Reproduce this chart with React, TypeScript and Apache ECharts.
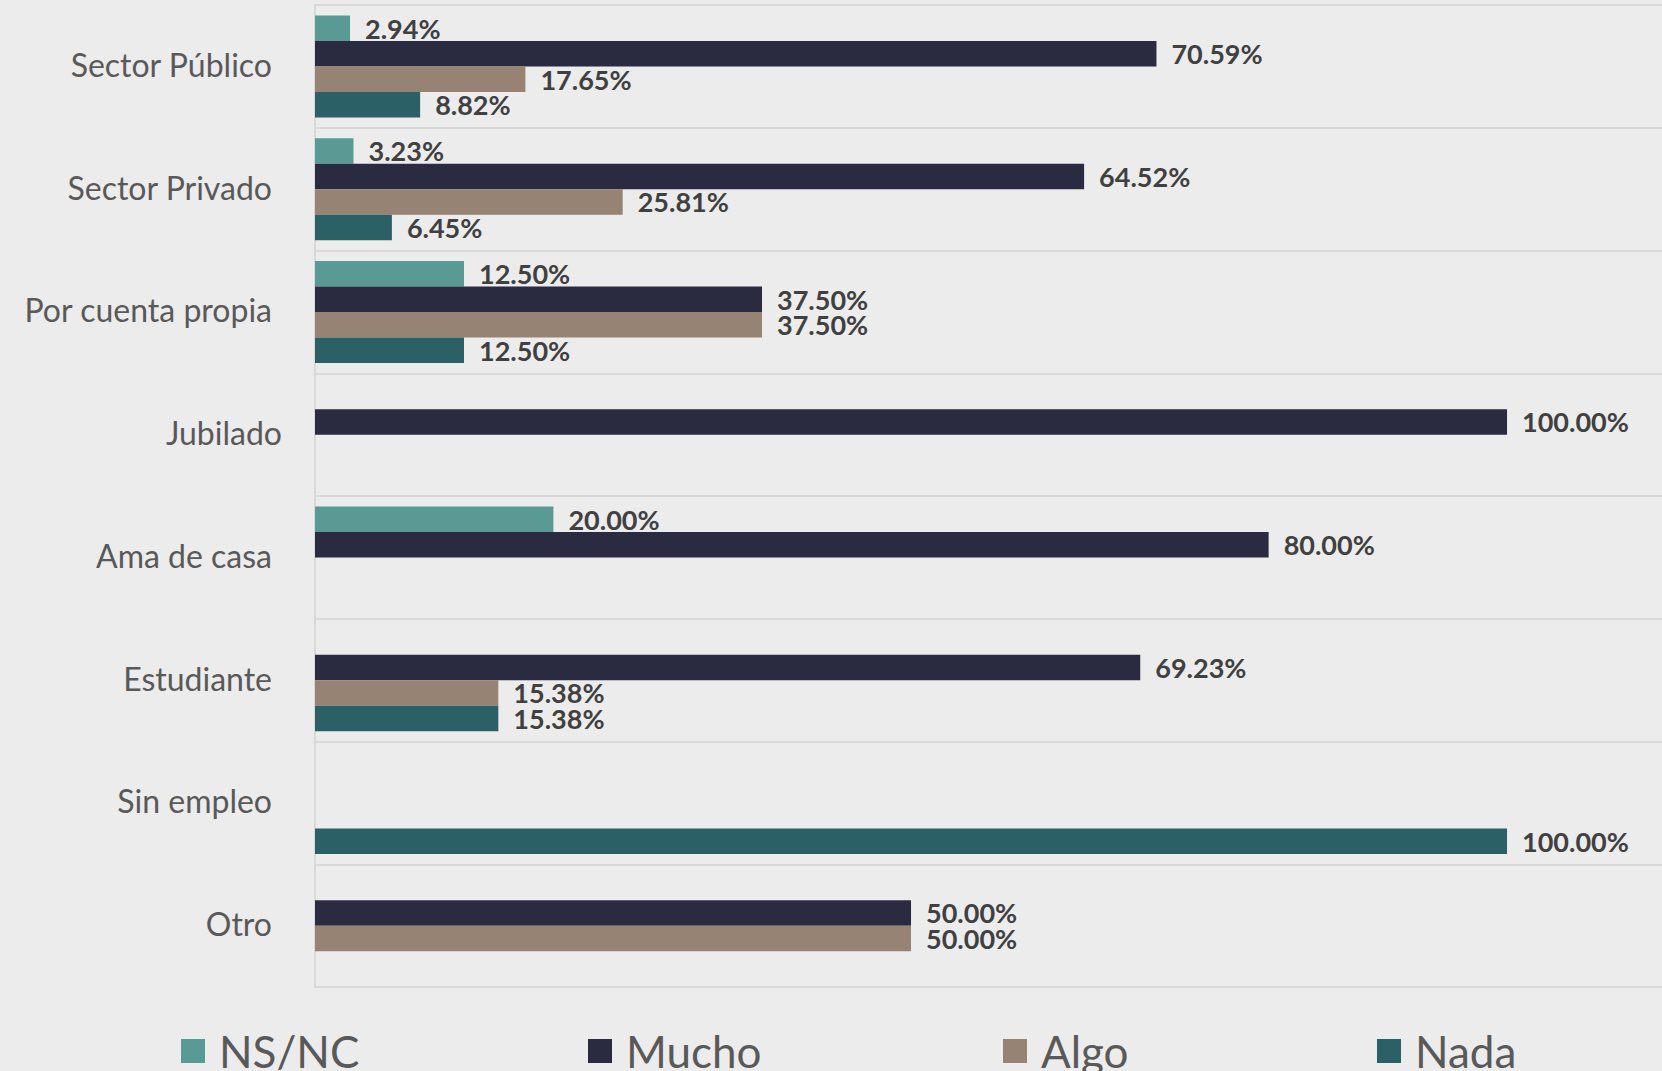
import React, { useEffect, useRef } from "react";
import * as echarts from "echarts";

const categories = [
  "Sector Público",
  "Sector Privado",
  "Por cuenta propia",
  "Jubilado",
  "Ama de casa",
  "Estudiante",
  "Sin empleo",
  "Otro",
];
const seriesNames = ["NS/NC", "Mucho", "Algo", "Nada"];
const nsnc = [2.94, 3.23, 12.5, 0, 20.0, 0, 0, 0];
const mucho = [70.59, 64.52, 37.5, 100.0, 80.0, 69.23, 0, 50.0];
const algo = [17.65, 25.81, 37.5, 0, 0, 15.38, 0, 50.0];
const nada = [8.82, 6.45, 12.5, 0, 0, 15.38, 100.0, 0];
const colors = ["#599b94", "#2a2b40", "#968374", "#2b6067"];
const legendLefts = [176, 583, 998, 1372];

export default function App() {
  const ref = useRef<HTMLDivElement>(null);
  useEffect(() => {
    if (!ref.current) return;
    const chart = echarts.init(ref.current, null, { renderer: "svg" });
    const values = [nsnc, mucho, algo, nada];
    const font = "Lato, 'Noto Sans', sans-serif";
    const catStyle = { color: "#595959", fontSize: 32, fontFamily: font };
    chart.setOption({
      animation: false,
      backgroundColor: "#ececec",
      grid: { left: 315, right: 0, top: 5, bottom: 84, containLabel: false },
      legend: seriesNames.map((n, i) => ({
        data: [n],
        left: legendLefts[i],
        top: 1024,
        itemWidth: 24,
        itemHeight: 24,
        itemGap: 0,
        icon: "rect",
        textStyle: { color: "#595959", fontSize: 44, fontFamily: font, padding: [0, 0, 0, 9] },
      })),
      xAxis: {
        type: "value",
        min: 0,
        max: 113,
        show: false,
        splitLine: { show: false },
      },
      yAxis: {
        type: "category",
        inverse: true,
        data: categories,
        axisTick: { show: false },
        axisLine: { show: true, lineStyle: { color: "#d9d9d9", width: 2 } },
        splitLine: { show: true, lineStyle: { color: "#d9d9d9", width: 2 } },
        axisLabel: {
          margin: 32,
          ...catStyle,
          padding: [0, 0, 4, 0],
          formatter: (v: string) => (v === "Jubilado" ? "{j|" + v + "}" : "{a|" + v + "}"),
          rich: {
            a: { ...catStyle, padding: [0, 11, 0, 0] },
            j: { ...catStyle, padding: [0, 1, 0, 0] },
          },
        },
      },
      series: seriesNames.map((n, i) => ({
        name: n,
        type: "bar",
        data: values[i],
        barWidth: 25.5,
        barGap: "0%",
        itemStyle: { color: colors[i] },
        label: {
          show: true,
          position: "right",
          distance: 15,
          color: "#404040",
          fontSize: 27,
          lineHeight: 24,
          fontWeight: "bold",
          fontFamily: font,
          formatter: (p: any) => (p.value > 0 ? p.value.toFixed(2) + "%" : ""),
        },
      })),
    });
    return () => chart.dispose();
  }, []);
  return (
    <div
      ref={ref}
      style={{ position: "fixed", left: 0, top: 0, width: 1662, height: 1071 }}
    />
  );
}
